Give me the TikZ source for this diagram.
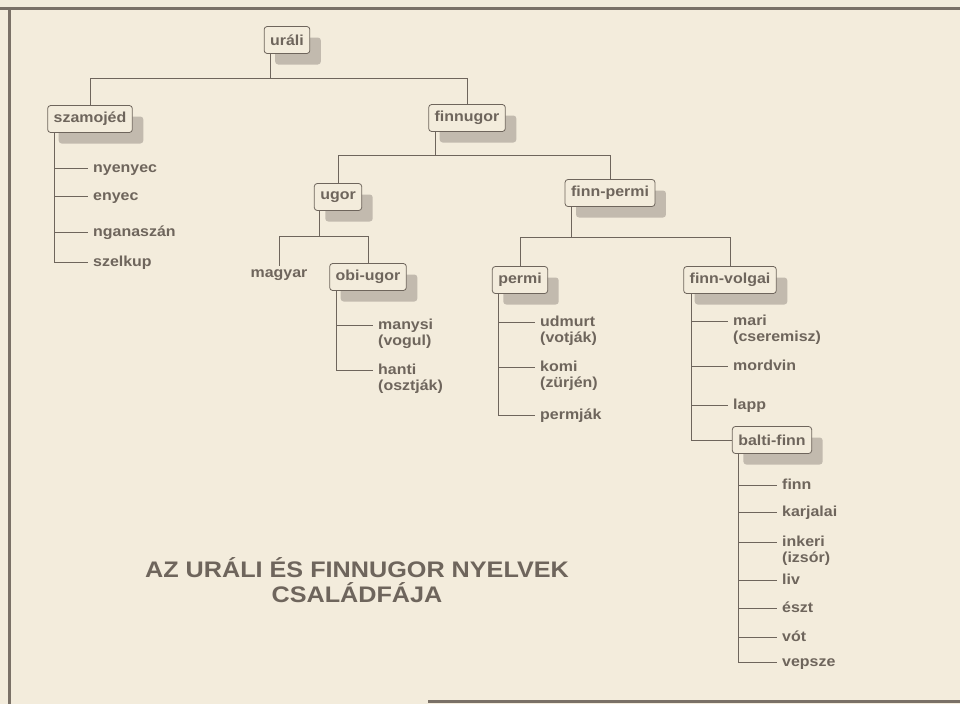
\documentclass[tikz,border=0pt]{standalone}
\usepackage{fontspec}
\setmainfont{Liberation Sans}[FakeStretch=1.1]
\newfontfamily\titlefont{Liberation Sans}[FakeStretch=1.12]
\usetikzlibrary{shadows}

\definecolor{paper}{HTML}{F3ECDC}
\definecolor{ink}{HTML}{6E655C}
\definecolor{shade}{HTML}{C2BAAE}
\definecolor{frame}{HTML}{7A7167}

\begin{document}
\begin{tikzpicture}[x=1pt, y=-1pt,
  lang/.style={draw=ink, line width=0.8pt, fill=paper, rounded corners=3pt,
    inner xsep=6pt, minimum height=27pt, text=ink,
    font=\bfseries\fontsize{14.5}{16}\selectfont,
    drop shadow={shadow xshift=11pt, shadow yshift=-11pt, fill=shade, opacity=1, draw=none}},
  leaf/.style={anchor=base west, inner xsep=5pt, align=left, text=ink,
    font=\bfseries\fontsize{14.5}{16}\selectfont},
  branch/.style={draw=ink, line width=1pt}]

% paper and frame
\useasboundingbox (0,0) rectangle (960,704);
\fill[paper] (0,0) rectangle (960,704);
\draw[frame, line width=3pt] (0,8) -- (960,8);
\draw[frame, line width=3pt] (9,8) -- (9,704);
\draw[frame, line width=3pt] (428,701) -- (960,701);

% boxes
\node[lang] (urali) at (287,40) {uráli};
\node[lang] (szam) at (90,119) {szamojéd};
\node[lang] (finnugor) at (467,118) {finnugor};
\node[lang] (ugor) at (338,197) {ugor};
\node[lang] (obi) at (368,277) {obi-ugor};
\node[lang] (finnpermi) at (610,193) {finn-permi};
\node[lang] (permi) at (520,280) {permi};
\node[lang] (volgai) at (730,280) {finn-volgai};
\node[lang] (balti) at (772,440) {balti-finn};

% leaves (two-line ones sit on their last baseline)
\node[leaf] (nyenyec) at (88,172) {nyenyec};
\node[leaf] (enyec) at (88,200) {enyec};
\node[leaf] (nganaszan) at (88,236) {nganaszán};
\node[leaf] (szelkup) at (88,266) {szelkup};

\node[leaf, anchor=center] (magyar) at (279,275) {magyar};
\node[leaf] (manysi) at (373,345) {manysi\\(vogul)};
\node[leaf] (hanti) at (373,390) {hanti\\(osztják)};

\node[leaf] (udmurt) at (535,342) {udmurt\\(votják)};
\node[leaf] (komi) at (535,387) {komi\\(zürjén)};
\node[leaf] (permjak) at (535,419) {permják};

\node[leaf] (mari) at (728,341) {mari\\(cseremisz)};
\node[leaf] (mordvin) at (728,370) {mordvin};
\node[leaf] (lapp) at (728,409) {lapp};

\node[leaf] (finn) at (777,489) {finn};
\node[leaf] (karjalai) at (777,516) {karjalai};
\node[leaf] (inkeri) at (777,562) {inkeri\\(izsór)};
\node[leaf] (liv) at (777,584) {liv};
\node[leaf] (eszt) at (777,612) {észt};
\node[leaf] (vot) at (777,641) {vót};
\node[leaf] (vepsze) at (777,666) {vepsze};

\node[text=ink, align=center, font=\titlefont\bfseries\fontsize{22.5}{25}\selectfont]
  (title) at (357,580) {AZ URÁLI ÉS FINNUGOR NYELVEK\\CSALÁDFÁJA};

% buses
\coordinate (bus urali) at (0,78);
\coordinate (bus finnugor) at (0,155);
\coordinate (bus ugor) at (0,236);
\coordinate (bus finnpermi) at (0,237);

% branches between boxes
\draw[branch] ([xshift=7pt]urali.south west) coordinate (t) -- (t |- bus urali);
\draw[branch] (szam.north) |- (bus urali -| finnugor.north) -- (finnugor.north);

\draw[branch] ([xshift=7pt]finnugor.south west) coordinate (t) -- (t |- bus finnugor);
\draw[branch] (ugor.north) |- (bus finnugor -| finnpermi.north) -- (finnpermi.north);

\draw[branch] ([xshift=6pt]ugor.south west) coordinate (t) -- (t |- bus ugor);
\draw[branch] (magyar.north) |- (bus ugor -| obi.north) -- (obi.north);

\draw[branch] ([xshift=7pt]finnpermi.south west) coordinate (t) -- (t |- bus finnpermi);
\draw[branch] (permi.north) |- (bus finnpermi -| volgai.north) -- (volgai.north);

% branches to leaves
\draw[branch] ([xshift=7pt]szam.south west) |- ([yshift=4pt]nyenyec.base west);
\draw[branch] ([xshift=7pt]szam.south west) |- ([yshift=4pt]enyec.base west);
\draw[branch] ([xshift=7pt]szam.south west) |- ([yshift=4pt]nganaszan.base west);
\draw[branch] ([xshift=7pt]szam.south west) |- ([yshift=4pt]szelkup.base west);

\draw[branch] ([xshift=7pt]obi.south west) |- ([yshift=20pt]manysi.base west);
\draw[branch] ([xshift=7pt]obi.south west) |- ([yshift=20pt]hanti.base west);

\draw[branch] ([xshift=7pt]permi.south west) |- ([yshift=20pt]udmurt.base west);
\draw[branch] ([xshift=7pt]permi.south west) |- ([yshift=20pt]komi.base west);
\draw[branch] ([xshift=7pt]permi.south west) |- ([yshift=4pt]permjak.base west);

\draw[branch] ([xshift=8pt]volgai.south west) |- ([yshift=20pt]mari.base west);
\draw[branch] ([xshift=8pt]volgai.south west) |- ([yshift=4pt]mordvin.base west);
\draw[branch] ([xshift=8pt]volgai.south west) |- ([yshift=4pt]lapp.base west);
\draw[branch] ([xshift=8pt]volgai.south west) |- (balti.west);

\draw[branch] ([xshift=7pt]balti.south west) |- ([yshift=4pt]finn.base west);
\draw[branch] ([xshift=7pt]balti.south west) |- ([yshift=4pt]karjalai.base west);
\draw[branch] ([xshift=7pt]balti.south west) |- ([yshift=20pt]inkeri.base west);
\draw[branch] ([xshift=7pt]balti.south west) |- ([yshift=4pt]liv.base west);
\draw[branch] ([xshift=7pt]balti.south west) |- ([yshift=4pt]eszt.base west);
\draw[branch] ([xshift=7pt]balti.south west) |- ([yshift=4pt]vot.base west);
\draw[branch] ([xshift=7pt]balti.south west) |- ([yshift=4pt]vepsze.base west);
\end{tikzpicture}
\end{document}
